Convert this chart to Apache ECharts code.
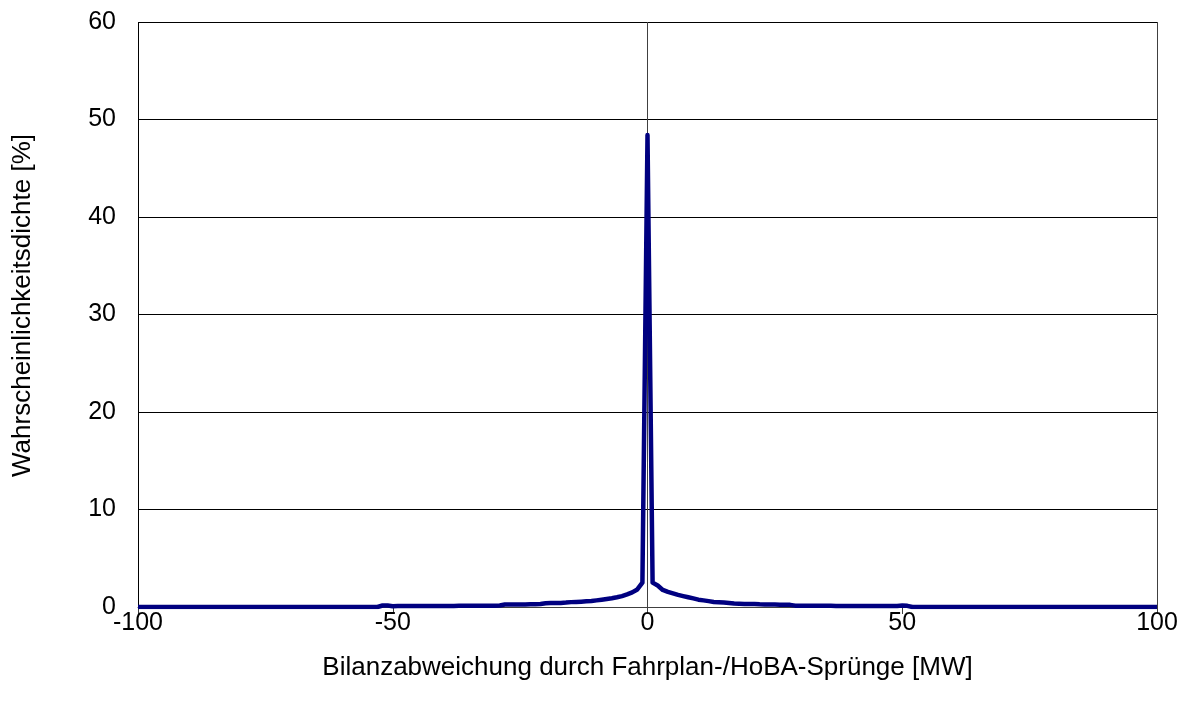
<!DOCTYPE html>
<html>
<head>
<meta charset="utf-8">
<script src="https://cdn.jsdelivr.net/npm/echarts@6/dist/echarts.min.js"></script>
<style>
  html, body { margin: 0; padding: 0; background: #fff; }
  #chart { width: 1182px; height: 707px; }
</style>
</head>
<body>
<div id="chart"></div>
<script>
// x positions in MW, one point per MW
const xValues = [];
for (let x = -100; x <= 100; x++) xValues.push(x);

// probability density [%], x = -100 .. -1
const leftTail = [
  0, 0, 0, 0, 0, 0, 0, 0, 0, 0,
  0, 0, 0, 0, 0, 0, 0, 0, 0, 0,
  0, 0, 0, 0, 0, 0, 0, 0, 0, 0,
  0, 0, 0, 0, 0, 0, 0, 0, 0, 0,
  0, 0, 0, 0, 0, 0, 0, 0,
  0.15, 0.15, 0.08, 0.1,
  0.1, 0.1, 0.1, 0.1, 0.1, 0.1, 0.1, 0.1, 0.11, 0.11,
  0.11, 0.12, 0.12, 0.12, 0.12, 0.13, 0.13, 0.14, 0.14, 0.15,
  0.25, 0.25, 0.25, 0.26, 0.26, 0.27, 0.28, 0.3,
  0.38, 0.4, 0.4, 0.42, 0.45, 0.5, 0.52,
  0.55, 0.58, 0.62, 0.68, 0.75, 0.82, 0.9, 1.0, 1.12, 1.3, 1.5, 1.8, 2.5
];
const peak = [48.4];
// x = 1 .. 100
const rightTail = [
  2.5, 2.2, 1.75, 1.55, 1.4, 1.25, 1.12, 1.0, 0.88, 0.75,
  0.68, 0.6, 0.52, 0.48, 0.45, 0.4, 0.35, 0.33, 0.32, 0.32,
  0.3, 0.27, 0.26, 0.25, 0.25, 0.24, 0.23, 0.22,
  0.14, 0.14, 0.13, 0.13, 0.12, 0.12, 0.12, 0.12, 0.11, 0.11,
  0.11, 0.1, 0.1, 0.1, 0.1, 0.1, 0.1, 0.1, 0.1, 0.1,
  0.1, 0.15, 0.12,
  0, 0, 0, 0, 0, 0, 0, 0, 0, 0,
  0, 0, 0, 0, 0, 0, 0, 0, 0, 0,
  0, 0, 0, 0, 0, 0, 0, 0, 0, 0,
  0, 0, 0, 0, 0, 0, 0, 0, 0, 0,
  0, 0, 0, 0, 0, 0, 0, 0, 0
];
const density = leftTail.concat(peak, rightTail);

const xTicks = [-100, -50, 0, 50, 100];
const yTicks = [0, 10, 20, 30, 40, 50, 60];

const chart = echarts.init(document.getElementById("chart"));
const font = "'Liberation Sans', Arial, sans-serif";

chart.setOption({
  animation: false,
  grid: { left: 138, right: 25, top: 22, bottom: 100 },
  xAxis: {
    type: "value",
    min: xTicks[0],
    max: xTicks[xTicks.length - 1],
    interval: 50,
    name: "Bilanzabweichung durch Fahrplan-/HoBA-Sprünge [MW]",
    nameLocation: "middle",
    nameGap: 48,
    nameTextStyle: { color: "#000", fontSize: 26, fontFamily: font },
    axisLine: { show: true, onZero: false, lineStyle: { color: "#404040", width: 1 } },
    axisTick: { show: true, length: 7, lineStyle: { color: "#404040" } },
    axisLabel: { color: "#000", fontSize: 25, fontFamily: font, margin: 4 },
    splitLine: {
      show: true,
      lineStyle: { color: ["#000", "rgba(0,0,0,0)", "#404040", "rgba(0,0,0,0)", "#404040"], width: 1 }
    }
  },
  yAxis: {
    type: "value",
    min: yTicks[0],
    max: yTicks[yTicks.length - 1],
    interval: 10,
    name: "Wahrscheinlichkeitsdichte [%]",
    nameLocation: "middle",
    nameGap: 102,
    nameTextStyle: { color: "#000", fontSize: 26, fontFamily: font, padding: [0, 0, 0, 18] },
    axisLine: { show: false },
    axisTick: { show: false },
    axisLabel: { color: "#000", fontSize: 25, fontFamily: font, margin: 22 },
    splitLine: { show: true, lineStyle: { color: "#000", width: 1 } }
  },
  series: [
    {
      type: "line",
      data: xValues.map((x, i) => [x, density[i]]),
      showSymbol: false,
      lineStyle: { color: "#000080", width: 4.5, join: "round" },
      z: 3
    }
  ]
});
</script>
</body>
</html>
